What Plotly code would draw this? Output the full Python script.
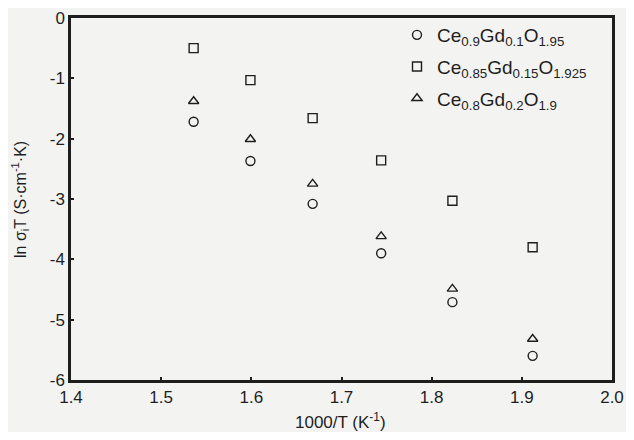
import plotly.graph_objects as go

# 1000/T (K^-1)
inv_T = [1.536, 1.599, 1.668, 1.744, 1.823, 1.912]

series_names = [
    "Ce<sub>0.9</sub>Gd<sub>0.1</sub>O<sub>1.95</sub>",
    "Ce<sub>0.85</sub>Gd<sub>0.15</sub>O<sub>1.925</sub>",
    "Ce<sub>0.8</sub>Gd<sub>0.2</sub>O<sub>1.9</sub>",
]
gdc10 = [-1.72, -2.37, -3.08, -3.90, -4.71, -5.60]
gdc15 = [-0.50, -1.03, -1.66, -2.36, -3.03, -3.80]
gdc20 = [-1.38, -2.01, -2.75, -3.62, -4.49, -5.32]

x_ticks = [1.4, 1.5, 1.6, 1.7, 1.8, 1.9, 2.0]
y_ticks = [0, -1, -2, -3, -4, -5, -6]

x_title = "1000/T (K<sup>-1</sup>)"
y_title = "ln σ<sub>i</sub>T (S·cm<sup>-1</sup>·K)"

ink = "#1e1e1e"
bg = "#f3f4f2"
font_family = "Liberation Sans, Arial, Helvetica, sans-serif"

# page body has an 8px margin; figure coordinates are offset by it
W, H = 618, 424
L, R, T, B = 63, 14, 8, 52
pw, ph = W - L - R, H - T - B


def px_x(x):
    return (x - L) / pw


def px_y(y):
    return (H - B - y) / ph


fig = go.Figure()
symbols = ["circle-open", "square-open", "triangle-up-open"]
for i, (name, ys, sym) in enumerate(zip(series_names, [gdc10, gdc15, gdc20], symbols)):
    fig.add_trace(go.Scatter(
        x=inv_T, y=ys, mode="markers", name=name, legendgroup=f"g{i}",
        marker=dict(symbol=sym, size=9, color=ink, line=dict(width=1.4, color=ink)),
    ))

fig.add_annotation(
    text=x_title, xref="paper", yref="paper",
    x=px_x(332), y=px_y(413), xanchor="center", yanchor="middle",
    showarrow=False, font=dict(size=17, color=ink),
)
fig.add_annotation(
    text=y_title, xref="paper", yref="paper", textangle=-90,
    x=px_x(12), y=px_y(191), xanchor="center", yanchor="middle",
    showarrow=False, font=dict(size=16, color=ink),
)

fig.update_layout(
    width=W, height=H,
    margin=dict(l=L, r=R, t=T, b=B),
    paper_bgcolor=bg, plot_bgcolor=bg,
    font=dict(family=font_family, size=17, color=ink),
    showlegend=True,
    legend=dict(
        x=px_x(389), y=px_y(6), xanchor="left", yanchor="top",
        bgcolor="rgba(0,0,0,0)", borderwidth=0,
        font=dict(size=19, color=ink), tracegroupgap=4,
        itemwidth=30,
    ),
    xaxis=dict(
        range=[1.4, 2.0], tickvals=x_ticks, ticktext=[f"{v:.1f}" for v in x_ticks],
        ticks="inside", ticklen=3, tickwidth=1.5, tickcolor=ink,
        showline=True, linewidth=2.5, linecolor=ink, mirror=True,
        showgrid=False, zeroline=False, automargin=False,
        tickfont=dict(size=17),
    ),
    yaxis=dict(
        range=[-6, 0], tickvals=y_ticks, ticktext=[str(v) for v in y_ticks],
        ticks="inside", ticklen=3, tickwidth=1.5, tickcolor=ink,
        showline=True, linewidth=2.5, linecolor=ink, mirror=True,
        showgrid=False, zeroline=False, automargin=False,
        tickfont=dict(size=17),
    ),
)

fig.write_html("out.html")
